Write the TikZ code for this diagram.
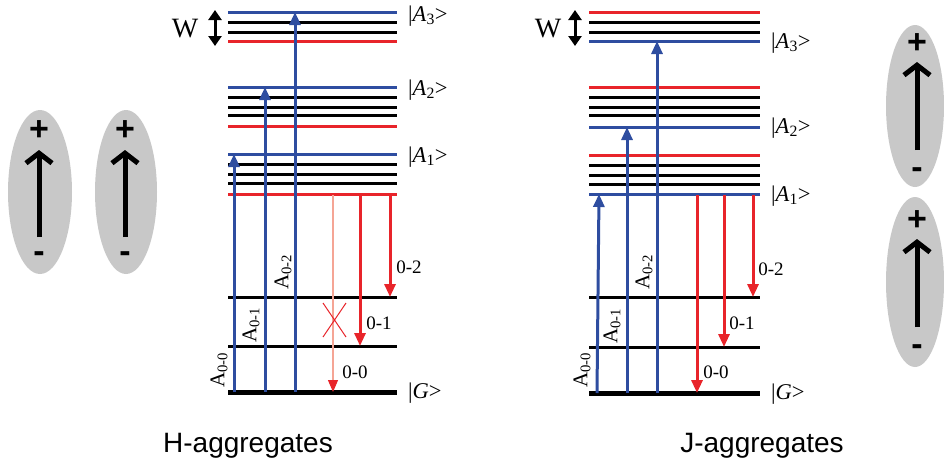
\documentclass[tikz,border=0pt]{standalone}
\usepackage{fontspec}
\setmainfont{Liberation Serif}
\setsansfont{Liberation Sans}
\usetikzlibrary{arrows.meta}
\definecolor{lvblue}{HTML}{2E4DA0}
\definecolor{lvred}{HTML}{E8242A}
\definecolor{lvpink}{HTML}{F5A595}
\definecolor{dipgray}{HTML}{C8C8C8}
\tikzset{
  lvl/.style={line width=3pt},
  lvblack/.style={lvl,black},
  lvb/.style={lvl,lvblue},
  lvr/.style={lvl,lvred},
  ground/.style={line width=5pt,black},
  upar/.style={line width=3pt,lvblue,-{Triangle[length=13pt,width=11pt]}},
  dnar/.style={line width=3pt,lvred,-{Triangle[length=13pt,width=11pt]}},
  faint/.style={line width=1.2pt,lvpink,-{Triangle[length=12pt,width=10pt,color=lvred]}},
  warr/.style={line width=3pt,black,{Triangle[length=10pt,width=13pt]}-{Triangle[length=10pt,width=13pt]}},
  statelab/.style={anchor=west,font=\fontsize{22.5}{22.5}\selectfont,inner sep=0pt},
  trlab/.style={font=\fontsize{19}{19}\selectfont,inner sep=0pt},
  alab/.style={rotate=90,font=\fontsize{21}{21}\selectfont,inner sep=0pt},
  wlab/.style={font=\fontsize{28}{28}\selectfont,inner sep=0pt},
  caption/.style={font=\sffamily\fontsize{28}{28}\selectfont,inner sep=0pt},
  dip/.style={fill=dipgray,draw=none},
  diparr/.style={line width=5pt,black,-{Straight Barb[length=10pt,width=26pt]}},
  sign/.style={font=\sffamily\bfseries\fontsize{34}{34}\selectfont,inner sep=0pt},
}
\newcommand{\st}[1]{{|}\textit{A}\textsubscript{#1}{>}}
\newcommand{\gs}{{|}\textit{G}{>}}
\begin{document}
\begin{tikzpicture}[x=1pt,y=-1pt]
\useasboundingbox (0,0) rectangle (944,466);

% ---------- dipoles left (H)
\fill[dip] (40,192) ellipse [x radius=32,y radius=82];
\fill[dip] (126,192) ellipse [x radius=31,y radius=82];
\foreach \x/\n in {39/a,125/b}{
  \node[sign] (hp\n) at (\x,131) {+};
  \node[sign] (hm\n) at (\x,257) {-};
  \coordinate (ht\n) at (\x,237);
  \coordinate (hh\n) at (\x,150);
  \draw[diparr] (ht\n) -- (hh\n);
}
% ---------- dipoles right (J)
\fill[dip] (915,106) ellipse [x radius=29,y radius=81];
\fill[dip] (915,282) ellipse [x radius=29,y radius=85];
\foreach \y/\n in {0/a,177/b}{
  \node[sign] (jp\n) at (917,44+\y) {+};
  \node[sign] (jm\n) at (917,173+\y) {-};
  \coordinate (jt\n) at (917,150+\y);
  \coordinate (jh\n) at (917,62+\y);
  \draw[diparr] (jt\n) -- (jh\n);
}

% ---------- H levels
\def\hl{228}\def\hr{397}
\foreach \y in {22,32,97,107,115,164,174,183,297,346}{\draw[lvblack] (\hl,\y) -- (\hr,\y);}
\foreach \y in {12,87,154}{\draw[lvb] (\hl,\y) -- (\hr,\y);}
\foreach \y in {41,126,194}{\draw[lvr] (\hl,\y) -- (\hr,\y);}
\draw[ground] (\hl,392) -- (\hr,392);

\coordinate (hg1) at (234,392); \coordinate (ha1) at (234,154);
\coordinate (hg2) at (265,392); \coordinate (ha2) at (265,87);
\coordinate (hg3) at (295,392); \coordinate (ha3) at (295,12);
\draw[upar] (hg1) -- (ha1);
\draw[upar] (hg2) -- (ha2);
\draw[upar] (hg3) -- (ha3);

\coordinate (he0) at (333,195); \coordinate (hf0) at (333,392);
\coordinate (he1) at (360,195); \coordinate (hf1) at (360,346);
\coordinate (he2) at (390,195); \coordinate (hf2) at (390,297);
\draw[faint] (he0) -- (hf0);
\draw[dnar] (he1) -- (hf1);
\draw[dnar] (he2) -- (hf2);
\draw[lvred,line width=1pt] (323,303) -- (346,337) (346,303) -- (323,337);

\node[statelab] (hA3) at (408,16) {\st{3}};
\node[statelab] (hA2) at (408,90) {\st{2}};
\node[statelab] (hA1) at (408,157) {\st{1}};
\node[statelab] (hG) at (408,393) {\gs};
\node[trlab] (h02) at (409,267) {0-2};
\node[trlab] (h01) at (379,323) {0-1};
\node[trlab] (h00) at (355,372) {0-0};
\node[alab] (hA00) at (219,370) {A\textsubscript{0-0}};
\node[alab] (hA01) at (251,325) {A\textsubscript{0-1}};
\node[alab] (hA02) at (283,272) {A\textsubscript{0-2}};
\node[wlab] (hW) at (185,29) {W};
\coordinate (hw1) at (215,10); \coordinate (hw2) at (215,46);
\draw[warr] (hw1) -- (hw2);
\node[caption] (hcap) at (248,446) {H-aggregates};

% ---------- J levels
\def\jl{589}\def\jr{760}
\foreach \y in {22,32,97,107,115,165,175,184,297,347}{\draw[lvblack] (\jl,\y) -- (\jr,\y);}
\foreach \y in {12,87,155}{\draw[lvr] (\jl,\y) -- (\jr,\y);}
\foreach \y in {41,127,194}{\draw[lvb] (\jl,\y) -- (\jr,\y);}
\draw[ground] (\jl,393) -- (\jr,393);

\coordinate (jg1) at (597,393); \coordinate (ja1) at (599,194);
\coordinate (jg2) at (627,393); \coordinate (ja2) at (627,127);
\coordinate (jg3) at (657,393); \coordinate (ja3) at (657,41);
\draw[upar] (jg1) -- (ja1);
\draw[upar] (jg2) -- (ja2);
\draw[upar] (jg3) -- (ja3);

\coordinate (je0) at (697,195); \coordinate (jf0) at (697,393);
\coordinate (je1) at (724,195); \coordinate (jf1) at (724,347);
\coordinate (je2) at (753,195); \coordinate (jf2) at (753,297);
\draw[dnar] (je0) -- (jf0);
\draw[dnar] (je1) -- (jf1);
\draw[dnar] (je2) -- (jf2);

\node[statelab] (jA3) at (771,43) {\st{3}};
\node[statelab] (jA2) at (771,128) {\st{2}};
\node[statelab] (jA1) at (771,196) {\st{1}};
\node[statelab] (jG) at (771,394) {\gs};
\node[trlab] (j02) at (771,269) {0-2};
\node[trlab] (j01) at (742,323) {0-1};
\node[trlab] (j00) at (716,372) {0-0};
\node[alab] (jA00) at (582,370) {A\textsubscript{0-0}};
\node[alab] (jA01) at (612,326) {A\textsubscript{0-1}};
\node[alab] (jA02) at (644,272) {A\textsubscript{0-2}};
\node[wlab] (jW) at (548,29) {W};
\coordinate (jw1) at (575,10); \coordinate (jw2) at (575,46);
\draw[warr] (jw1) -- (jw2);
\node[caption] (jcap) at (762,446) {J-aggregates};
\end{tikzpicture}
\end{document}
